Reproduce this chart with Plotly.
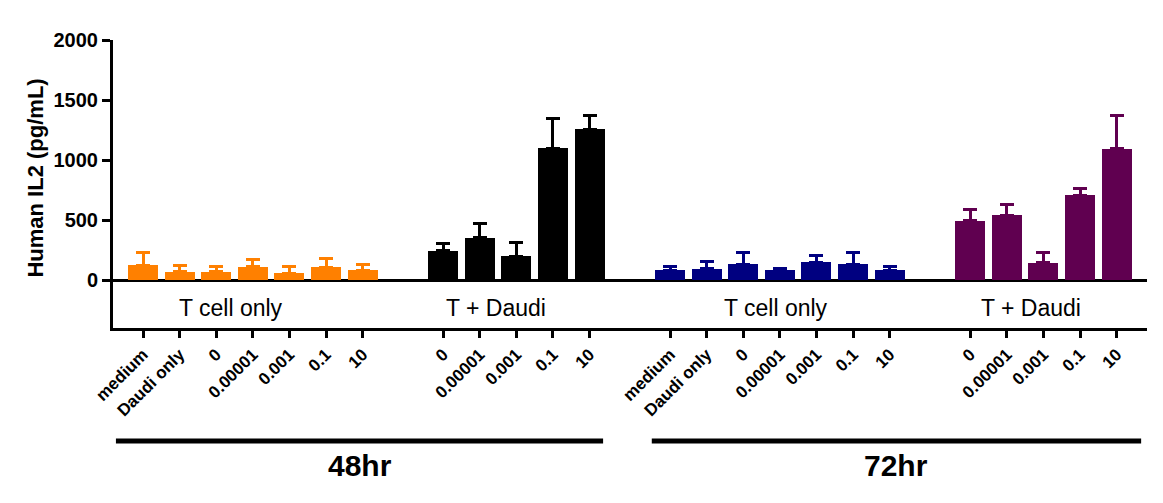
import plotly.graph_objects as go

# ---------------- data ----------------
group_names = ["T cell only", "T + Daudi", "T cell only", "T + Daudi"]
tcell_ticks = ["medium", "Daudi only", "0", "0.00001", "0.001", "0.1", "10"]
daudi_ticks = ["0", "0.00001", "0.001", "0.1", "10"]

tcell48_vals = [125, 67, 67, 111, 58, 108, 83]
tcell48_err = [103, 50, 44, 56, 53, 70, 48]
daudi48_vals = [242, 353, 200, 1097, 1256]
daudi48_err = [64, 119, 111, 250, 119]
tcell72_vals = [83, 92, 133, 83, 150, 133, 83]
tcell72_err = [28, 61, 95, 17, 58, 95, 28]
daudi72_vals = [492, 539, 142, 708, 1092]
daudi72_err = [97, 94, 89, 56, 277]

timepoints = ["48hr", "72hr"]
y_title = "Human IL2 (pg/mL)"
y_ticks = [0, 500, 1000, 1500, 2000]

# ---------------- styling ----------------
colors = ["#FF8000", "#000000", "#000080", "#600050"]
FONT = "Arial, Liberation Sans, sans-serif"
GAP = 2.2
BAR_W = 0.82
label_offsets = [-0.6, -0.55, -0.1, -0.35]

groups = [
    (tcell_ticks, tcell48_vals, tcell48_err),
    (daudi_ticks, daudi48_vals, daudi48_err),
    (tcell_ticks, tcell72_vals, tcell72_err),
    (daudi_ticks, daudi72_vals, daudi72_err),
]

fig = go.Figure()
tickvals, ticktext, centers, spans = [], [], [], []
start = 0.0
for gi, (ticks, vals, errs) in enumerate(groups):
    xs = [start + i for i in range(len(vals))]
    fig.add_trace(go.Bar(
        x=xs, y=vals, width=BAR_W,
        marker=dict(color=colors[gi], line=dict(width=0)),
        error_y=dict(type="data", array=errs, arrayminus=[0] * len(errs),
                     symmetric=False, color=colors[gi], thickness=3, width=7),
        showlegend=False,
    ))
    tickvals += xs
    ticktext += ticks
    centers.append((xs[0] + xs[-1]) / 2)
    spans.append((xs[0], xs[-1]))
    start = xs[-1] + GAP

x_range = [-0.82, spans[-1][1] + 0.83]

for gi, name in enumerate(group_names):
    fig.add_annotation(x=centers[gi] + label_offsets[gi], y=-232, xref="x", yref="y",
                       text=name, showarrow=False, yanchor="middle",
                       font=dict(family=FONT, size=23, color="black"))

# time-point brackets
tp_spans = [(x_range[0] + 0.08, spans[1][1] + 0.37), (spans[2][0] - 0.5, x_range[1] - 0.16)]
for (x0, x1), tp in zip(tp_spans, timepoints):
    fig.add_shape(type="line", xref="x", yref="paper", x0=x0, x1=x1,
                  y0=-0.392, y1=-0.392, line=dict(color="black", width=5))
    fig.add_annotation(x=(x0 + x1) / 2, y=-0.479, xref="x", yref="paper",
                       text=tp, showarrow=False, yanchor="middle",
                       font=dict(family=FONT, size=30, color="black", weight="bold"))

fig.add_annotation(x=-0.0754, y=0.519, xref="paper", yref="paper", text=y_title,
                   textangle=-90, showarrow=False, xanchor="center", yanchor="middle",
                   font=dict(family=FONT, size=22, color="black", weight="bold"))

# page body has an 8px margin, so the figure is 8px smaller and margins shifted
fig.update_layout(
    width=1155, height=495,
    margin=dict(l=105, r=16, t=32, b=175),
    plot_bgcolor="white", paper_bgcolor="white",
    bargap=0,
    font=dict(family=FONT, color="black"),
    xaxis=dict(range=x_range, tickmode="array", tickvals=tickvals, ticktext=ticktext,
               tickangle=-45, showgrid=False, zeroline=False, automargin=False,
               showline=True, linecolor="black", linewidth=3,
               ticks="outside", ticklen=7, tickwidth=3, tickcolor="black",
               tickfont=dict(family=FONT, size=17, color="black", weight="bold")),
    yaxis=dict(range=[-400, 2000], tickmode="array", tickvals=y_ticks,
               showgrid=False, zeroline=True, zerolinecolor="black", zerolinewidth=3,
               showline=True, linecolor="black", linewidth=3, automargin=False,
               ticks="outside", ticklen=8, tickwidth=3, tickcolor="black",
               tickfont=dict(family=FONT, size=20, color="black", weight="bold")),
)

fig.write_html("out.html")
